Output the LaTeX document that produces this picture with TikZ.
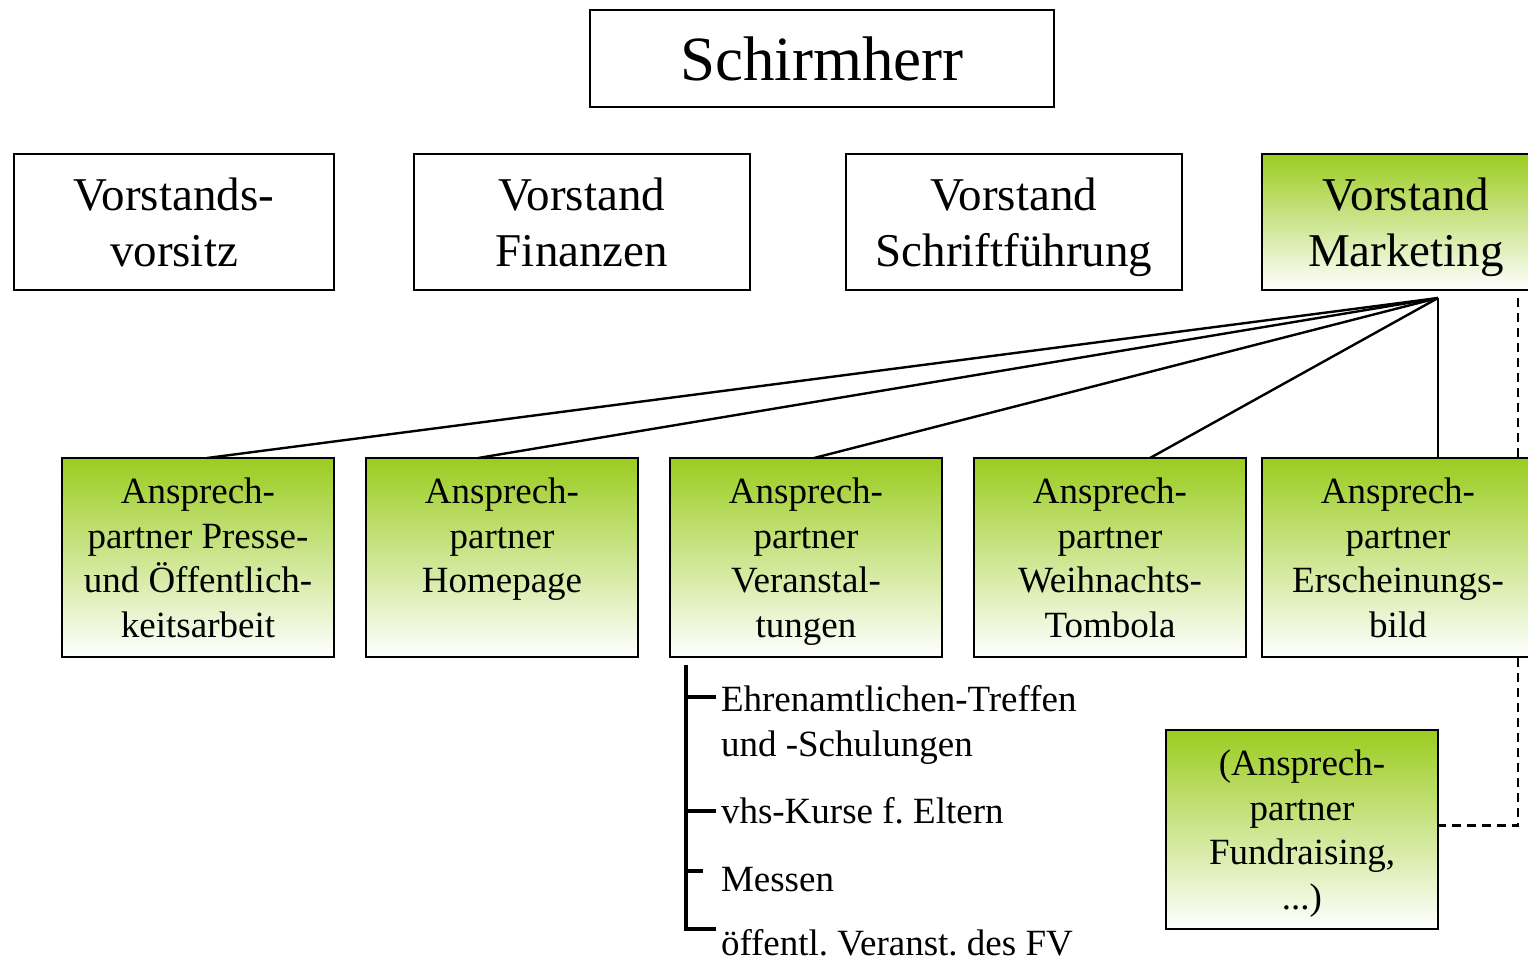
\documentclass[tikz,border=0pt]{standalone}
\usepackage{fontspec}
\setmainfont{Liberation Serif}
\usetikzlibrary{positioning, backgrounds}
\definecolor{grn}{RGB}{155,204,32}
\frenchspacing

\begin{document}
\begin{tikzpicture}[
        x=1pt, y=-1pt,
        every node/.style={inner sep=0pt, outer sep=0pt, align=center},
        box/.style={draw, line width=2.2pt, text depth=0pt},
        board/.style={box, minimum height=136pt, font=\fontsize{47}{56}\selectfont},
        contact/.style={box, top color=grn, bottom color=white, minimum width=272pt, minimum height=199pt, font=\fontsize{37}{44.6}\selectfont},
        item/.style={anchor=base west, align=left, font=\fontsize{37}{44.6}\selectfont},
        link/.style={line width=2.4pt},
        bar/.style={line width=3.4pt}
    ]
    \useasboundingbox (0,0) rectangle (1528,962);

    % Nodes
    \node[box, minimum width=464pt, minimum height=97pt, font=\fontsize{63}{75}\selectfont] (sh) at (822,58.5) {Schirmherr};
    \node[board, minimum width=320pt] (vo) at (174,222) {Vorstands-\\vorsitz};
    \node[board, minimum width=336pt] (fi) at (582,222) {Vorstand\\Finanzen};
    \node[board, minimum width=336pt] (sf) at (1014,222) {Vorstand\\Schriftführung};
    \node[board, minimum width=288pt, top color=grn, bottom color=white] (ma) at (1406,222) {Vorstand\\Marketing};

    \node[contact] (pr) at (198,557.5) {Ansprech-\\partner Presse-\\und Öffentlich-\\keitsarbeit};
    \node[contact, right=32pt of pr] (ho) {Ansprech-\\partner\\Homepage\\\mbox{}};
    \node[contact, right=32pt of ho] (ve) {Ansprech-\\partner\\Veranstal-\\tungen};
    \node[contact, right=32pt of ve] (we) {Ansprech-\\partner\\Weihnachts-\\Tombola};
    \node[contact, right=16pt of we] (er) {Ansprech-\\partner\\Erscheinungs-\\bild};
    \node[contact] (fu) at (1302,829.5) {(Ansprech-\\partner\\Fundraising,\\...)};

    \node[item] (t1) at (721,756) {Ehrenamtlichen-Treffen\\und -Schulungen};
    \node[item] (t2) at (721,823) {vhs-Kurse f. Eltern};
    \node[item] (t3) at (721,891) {Messen};
    \node[item] (t4) at (721,955) {öffentl. Veranst. des FV};

    % Lines
    \coordinate (hub) at (1438,298);
    \draw[link] (hub) -- ([xshift=9pt]pr.north);
    \draw[link] (hub) -- ([xshift=-24pt]ho.north);
    \draw[link] (hub) -- ([xshift=8pt]ve.north);
    \draw[link] (hub) -- ([xshift=40pt]we.north);
    \draw[link] (hub) -- ([xshift=40pt]er.north);

    \coordinate (dt) at (1518,298);
    \begin{scope}[on background layer]
        \draw[link, dash pattern=on 9pt off 6pt] (dt) |- ([yshift=4pt]fu.east);
    \end{scope}

    \coordinate (bt) at (686,665);
    \draw[bar] (bt) |- ([xshift=-5pt,yshift=26pt]t4.base west);
    \draw[bar] ([xshift=-5pt,yshift=59pt]t1.base west) -- +(-30,0);
    \draw[bar] ([xshift=-5pt,yshift=12pt]t2.base west) -- +(-30,0);
    \draw[bar] ([xshift=-18pt,yshift=20pt]t3.base west) -- +(-17,0);

\end{tikzpicture}
\end{document}
